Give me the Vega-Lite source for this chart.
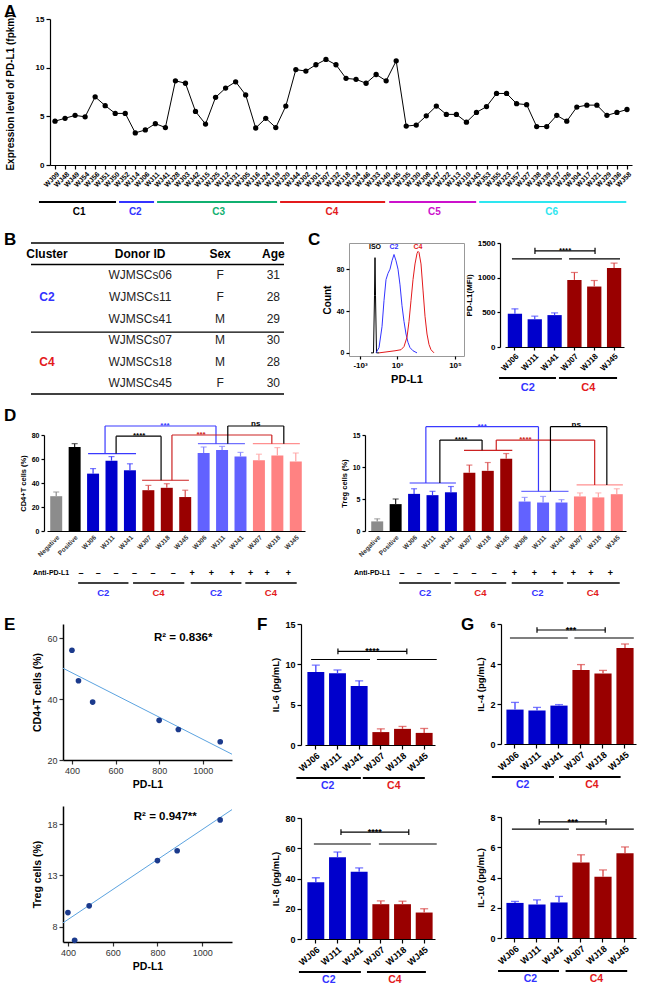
{
"$schema": "https://vega.github.io/schema/vega-lite/v6.json",
"background": "white",
"padding": {"left": 4, "top": 2, "right": 2, "bottom": 0},
"config": {
  "view": {"stroke": null},
  "font": "Liberation Sans",
  "axis": {"grid": false, "domainColor": "#000", "tickColor": "#000", "labelColor": "#000", "titleColor": "#000", "labelFont": "Liberation Sans", "titleFont": "Liberation Sans", "labelFontWeight": "bold", "titleFontWeight": "bold", "labelFontSize": 8, "titleFontSize": 9, "tickSize": 3, "domainWidth": 1.2, "tickWidth": 1.2},
  "title": {"fontSize": 17, "fontWeight": "bold", "anchor": "start", "frame": "bounds", "color": "#000", "font": "Liberation Sans"},
  "legend": {"disable": true},
  "text": {"font": "Liberation Sans"}
},
"columns": 1,
"spacing": 11,
"concat": [
{
 "columns": 1,
 "spacing": 13,
 "concat": [
  {
   "spacing": -12,
   "concat": [
    {"width": 13, "height": 1, "title": {"text": "A", "offset": -7}, "data": {"values": [{"t": " "}]}, "mark": {"type": "text"}, "encoding": {"text": {"field": "t"}}},
    {
     "spacing": 9,
     "vconcat": [
      {
       "width": 582, "height": 146,
       "data": {"values": [
        {"s":"WJ09","v":4.5},{"s":"WJ48","v":4.8},{"s":"WJ49","v":5.1},{"s":"WJ54","v":4.95},{"s":"WJ56","v":7.0},{"s":"WJ51","v":6.1},{"s":"WJ50","v":5.3},{"s":"WJ52","v":5.3},
        {"s":"WJ14","v":3.3},{"s":"WJ06","v":3.6},{"s":"WJ11","v":4.25},{"s":"WJ41","v":3.85},
        {"s":"WJ28","v":8.65},{"s":"WJ03","v":8.4},{"s":"WJ42","v":5.5},{"s":"WJ15","v":4.2},{"s":"WJ25","v":6.95},{"s":"WJ12","v":7.9},{"s":"WJ31","v":8.55},{"s":"WJ05","v":7.2},{"s":"WJ16","v":3.8},{"s":"WJ24","v":4.8},{"s":"WJ19","v":3.85},{"s":"WJ20","v":6.05},
        {"s":"WJ44","v":9.8},{"s":"WJ02","v":9.65},{"s":"WJ01","v":10.3},{"s":"WJ07","v":10.85},{"s":"WJ32","v":10.3},{"s":"WJ18","v":8.9},{"s":"WJ34","v":8.8},{"s":"WJ46","v":8.4},{"s":"WJ33","v":9.3},{"s":"WJ40","v":8.65},{"s":"WJ45","v":10.7},
        {"s":"WJ35","v":4.0},{"s":"WJ30","v":4.1},{"s":"WJ08","v":5.05},{"s":"WJ47","v":6.05},{"s":"WJ22","v":5.2},{"s":"WJ13","v":5.2},{"s":"WJ10","v":4.4},{"s":"WJ43","v":5.4},{"s":"WJ53","v":6.0},
        {"s":"WJ55","v":7.35},{"s":"WJ23","v":7.35},{"s":"WJ57","v":6.3},{"s":"WJ27","v":6.2},{"s":"WJ38","v":3.95},{"s":"WJ39","v":3.95},{"s":"WJ37","v":5.1},{"s":"WJ26","v":4.5},{"s":"WJ04","v":5.95},{"s":"WJ17","v":6.15},{"s":"WJ21","v":6.15},{"s":"WJ29","v":5.1},{"s":"WJ36","v":5.4},{"s":"WJ58","v":5.7}
       ]},
       "encoding": {
        "x": {"field": "s", "type": "nominal", "sort": null, "axis": {"title": null, "labelAngle": -45, "labelFontSize": 7, "tickSize": 4, "labelPadding": 1}},
        "y": {"field": "v", "type": "quantitative", "scale": {"domain": [0, 15], "nice": false}, "axis": {"title": "Expression level of PD-L1 (fpkm)", "values": [0, 5, 10, 15], "titleFontSize": 10, "titlePadding": 20, "tickSize": 4, "labelFontSize": 8}}
       },
       "layer": [
        {"mark": {"type": "line", "color": "#000", "strokeWidth": 1}},
        {"mark": {"type": "point", "filled": true, "color": "#000", "size": 28, "opacity": 1}}
       ]
      },
      {
       "width": 582, "height": 20,
       "data": {"values": [
        {"c": "C1", "a": -1.1, "b": 6.58, "m": 2.9},
        {"c": "C2", "a": 6.88, "b": 10.37, "m": 8.5},
        {"c": "C3", "a": 10.67, "b": 22.63, "m": 16.8},
        {"c": "C4", "a": 22.93, "b": 33.4, "m": 28.1},
        {"c": "C5", "a": 33.8, "b": 42.47, "m": 38.3},
        {"c": "C6", "a": 42.77, "b": 57.43, "m": 50.0}
       ]},
       "encoding": {"color": {"field": "c", "type": "nominal", "scale": {"domain": ["C1","C2","C3","C4","C5","C6"], "range": ["#000000","#3333ff","#10b070","#e31a1c","#cc11cc","#2ee6f0"]}}},
       "layer": [
        {"mark": {"type": "rule", "strokeWidth": 2}, "encoding": {"x": {"field": "a", "type": "quantitative", "scale": {"domain": [0, 58], "nice": false, "zero": false}, "axis": null}, "x2": {"field": "b"}, "y": {"datum": "line", "type": "nominal", "scale": {"type": "point", "domain": ["line", "grp"], "padding": 0.5}, "axis": null}}},
        {"mark": {"type": "text", "fontSize": 10, "fontWeight": "bold", "baseline": "middle"}, "encoding": {"x": {"field": "m", "type": "quantitative", "scale": {"domain": [0, 58], "nice": false, "zero": false}, "axis": null}, "y": {"datum": "grp", "type": "nominal", "scale": {"type": "point", "domain": ["line", "grp"], "padding": 0.5}, "axis": null}, "text": {"field": "c"}}}
       ]
      }
     ]
    }
   ]
  },
  {
   "spacing": 23,
   "concat": [
    {
     "spacing": 9,
     "concat": [
      {"width": 13, "height": 1, "title": {"text": "B", "offset": -11}, "data": {"values": [{"t": " "}]}, "mark": {"type": "text"}, "encoding": {"text": {"field": "t"}}},
      {
       "width": 253, "height": 151,
       "layer": [
        {"data": {"values": [{"r": 0}, {"r": 1}, {"r": 4.13}, {"r": 7}]}, "mark": {"type": "rule", "color": "#000", "strokeWidth": 1.4}, "encoding": {"y": {"field": "r", "type": "quantitative", "scale": {"domain": [0, 7], "reverse": true, "nice": false, "zero": false}, "axis": null}}},
        {"data": {"values": [{"c":"Cluster","r":0.5,"t":"Cluster"},{"c":"Donor ID","r":0.5,"t":"Donor ID"},{"c":"Sex","r":0.5,"t":"Sex"},{"c":"Age","r":0.5,"t":"Age"}]},
         "mark": {"type": "text", "fontSize": 12, "fontWeight": "bold", "baseline": "middle", "color": "#000"},
         "encoding": {"x": {"field": "c", "type": "nominal", "scale": {"type": "point", "domain": ["Cluster","s1","s2","s3","s4","s5","s6","Donor ID","s7","s8","s9","s10","s11","Sex","s12","s13","s14","Age"], "padding": 2.36, "align": 0.6}, "axis": null}, "y": {"field": "r", "type": "quantitative", "scale": {"domain": [0, 7], "reverse": true, "nice": false, "zero": false}, "axis": null}, "text": {"field": "t"}}},
        {"data": {"values": [
          {"c":"Donor ID","r":1.5,"t":"WJMSCs06"},{"c":"Sex","r":1.5,"t":"F"},{"c":"Age","r":1.5,"t":"31"},
          {"c":"Donor ID","r":2.5,"t":"WJMSCs11"},{"c":"Sex","r":2.5,"t":"F"},{"c":"Age","r":2.5,"t":"28"},
          {"c":"Donor ID","r":3.5,"t":"WJMSCs41"},{"c":"Sex","r":3.5,"t":"M"},{"c":"Age","r":3.5,"t":"29"},
          {"c":"Donor ID","r":4.5,"t":"WJMSCs07"},{"c":"Sex","r":4.5,"t":"M"},{"c":"Age","r":4.5,"t":"30"},
          {"c":"Donor ID","r":5.5,"t":"WJMSCs18"},{"c":"Sex","r":5.5,"t":"M"},{"c":"Age","r":5.5,"t":"28"},
          {"c":"Donor ID","r":6.5,"t":"WJMSCs45"},{"c":"Sex","r":6.5,"t":"F"},{"c":"Age","r":6.5,"t":"30"}]},
         "mark": {"type": "text", "fontSize": 12, "baseline": "middle", "color": "#222"},
         "encoding": {"x": {"field": "c", "type": "nominal", "scale": {"type": "point", "domain": ["Cluster","s1","s2","s3","s4","s5","s6","Donor ID","s7","s8","s9","s10","s11","Sex","s12","s13","s14","Age"], "padding": 2.36, "align": 0.6}, "axis": null}, "y": {"field": "r", "type": "quantitative", "scale": {"domain": [0, 7], "reverse": true, "nice": false, "zero": false}, "axis": null}, "text": {"field": "t"}}},
        {"data": {"values": [{"c":"Cluster","r":2.5,"t":"C2"},{"c":"Cluster","r":5.5,"t":"C4"}]},
         "mark": {"type": "text", "fontSize": 12, "fontWeight": "bold", "baseline": "middle"},
         "encoding": {"x": {"field": "c", "type": "nominal", "scale": {"type": "point", "domain": ["Cluster","s1","s2","s3","s4","s5","s6","Donor ID","s7","s8","s9","s10","s11","Sex","s12","s13","s14","Age"], "padding": 2.36, "align": 0.6}, "axis": null}, "y": {"field": "r", "type": "quantitative", "scale": {"domain": [0, 7], "reverse": true, "nice": false, "zero": false}, "axis": null}, "text": {"field": "t"}, "color": {"field": "t", "type": "nominal", "scale": {"domain": ["C2","C4"], "range": ["#3333ff","#cc1111"]}}}}
       ]
      }
     ]
    },
    {
     "spacing": 0,
     "concat": [
      {"width": 13, "height": 1, "title": {"text": "C", "offset": -11}, "data": {"values": [{"t": " "}]}, "mark": {"type": "text"}, "encoding": {"text": {"field": "t"}}},
      {
       "width": 115, "height": 113,
       "view": {"stroke": "#999999", "strokeWidth": 1},
       "layer": [
        {"data": {"values": [
          {"s":"ISO","u":22,"n":0},{"s":"ISO","u":24.5,"n":0},{"s":"ISO","u":25.5,"n":55},{"s":"ISO","u":26,"n":91},{"s":"ISO","u":26.5,"n":55},{"s":"ISO","u":27.5,"n":0},{"s":"ISO","u":30,"n":0},
          {"s":"C2","u":27,"n":0},{"s":"C2","u":30,"n":5},{"s":"C2","u":33,"n":25},{"s":"C2","u":35,"n":50},{"s":"C2","u":37,"n":70},{"s":"C2","u":39,"n":76},{"s":"C2","u":41,"n":80},{"s":"C2","u":43,"n":88},{"s":"C2","u":45,"n":94},{"s":"C2","u":47,"n":88},{"s":"C2","u":49,"n":80},{"s":"C2","u":51,"n":65},{"s":"C2","u":53,"n":45},{"s":"C2","u":55,"n":30},{"s":"C2","u":57,"n":18},{"s":"C2","u":59,"n":10},{"s":"C2","u":61,"n":5},{"s":"C2","u":64,"n":2},{"s":"C2","u":68,"n":0},
          {"s":"C4","u":30,"n":0},{"s":"C4","u":38,"n":1},{"s":"C4","u":46,"n":2},{"s":"C4","u":52,"n":3},{"s":"C4","u":55,"n":6},{"s":"C4","u":58,"n":15},{"s":"C4","u":60,"n":30},{"s":"C4","u":62,"n":50},{"s":"C4","u":64,"n":70},{"s":"C4","u":66,"n":85},{"s":"C4","u":68,"n":95},{"s":"C4","u":69,"n":97},{"s":"C4","u":70,"n":96},{"s":"C4","u":72,"n":85},{"s":"C4","u":74,"n":60},{"s":"C4","u":76,"n":35},{"s":"C4","u":78,"n":18},{"s":"C4","u":80,"n":8},{"s":"C4","u":82,"n":3},{"s":"C4","u":85,"n":0}
         ]},
         "mark": {"type": "line", "strokeWidth": 1},
         "encoding": {
          "x": {"field": "u", "type": "quantitative", "scale": {"domain": [0, 115], "nice": false, "zero": false}, "axis": {"title": "PD-L1", "titleFontSize": 11, "values": [11, 27, 48, 78, 106], "labelExpr": "datum.value == 11 ? '-10³' : datum.value == 27 ? '0' : datum.value == 48 ? '10³' : datum.value == 78 ? '10⁴' : '10⁵'", "domain": false, "labelFontSize": 8, "tickSize": 3}},
          "y": {"field": "n", "type": "quantitative", "scale": {"domain": [-3, 105], "nice": false, "zero": false}, "axis": {"title": "Count", "titleFontSize": 10, "values": [0, 20, 40, 60, 80, 100], "domain": false, "labelFontSize": 7}},
          "color": {"field": "s", "type": "nominal", "scale": {"domain": ["ISO","C2","C4"], "range": ["#555555","#2a2aff","#cc2020"]}}
         }
        },
        {"data": {"values": [{"s":"ISO","u":26,"n":101},{"s":"C2","u":45,"n":101},{"s":"C4","u":69,"n":101}]},
         "mark": {"type": "text", "fontSize": 7, "fontWeight": "bold", "baseline": "middle"},
         "encoding": {"x": {"field": "u", "type": "quantitative"}, "y": {"field": "n", "type": "quantitative"}, "text": {"field": "s"}, "color": {"field": "s", "type": "nominal", "scale": {"domain": ["ISO","C2","C4"], "range": ["#444444","#2a2aff","#cc2020"]}}}}
       ]
      },
      {
       "spacing": 0,
       "vconcat": [
        {
         "width": 119, "height": 104,
         "data": {"values": [{"k":"WJ06","g":"C2","v":480,"hi":550},{"k":"WJ11","g":"C2","v":400,"hi":445},{"k":"WJ41","g":"C2","v":460,"hi":492},{"k":"WJ07","g":"C4","v":968,"hi":1075},{"k":"WJ18","g":"C4","v":872,"hi":959},{"k":"WJ45","g":"C4","v":1138,"hi":1210}]},
         "encoding": {"y": {"field": "v", "type": "quantitative", "scale": {"domain": [0, 1500], "nice": false}, "axis": {"title": "PD-L1(MFI)", "values": [0, 500, 1000, 1500], "format": "d", "offset": 5, "labelFontSize": 8, "titleFontSize": 8, "tickSize": 3}}},
         "layer": [
          {"mark": {"type": "bar"}, "encoding": {"x": {"field": "k", "type": "nominal", "sort": null, "scale": {"paddingInner": 0.28, "paddingOuter": 0.14}, "axis": {"title": null, "labelAngle": -45, "labelFontSize": 8, "tickSize": 3}}, "color": {"field": "g", "type": "nominal", "scale": {"domain": ["C2","C4"], "range": ["#0000cc","#990000"]}}}},
          {"mark": {"type": "rule", "strokeWidth": 1.2}, "encoding": {"x": {"field": "k", "type": "nominal", "sort": null, "axis": null}, "y2": {"field": "hi"}, "color": {"field": "g", "type": "nominal", "scale": {"domain": ["C2","C4"], "range": ["#4040ff","#d94545"]}}}},
          {"mark": {"type": "tick", "thickness": 1.2, "size": 7}, "encoding": {"x": {"field": "k", "type": "nominal", "sort": null, "axis": null}, "y": {"field": "hi", "type": "quantitative", "title": "PD-L1(MFI)"}, "color": {"field": "g", "type": "nominal", "scale": {"domain": ["C2","C4"], "range": ["#4040ff","#d94545"]}}}},
          {"data": {"values": [{"x":0.35,"x2":2.87,"v":1272,"v2":1272},{"x":3.23,"x2":5.8,"v":1272,"v2":1272},{"x":1.51,"x2":4.54,"v":1385,"v2":1385},{"x":1.51,"x2":1.51,"v":1340,"v2":1430},{"x":4.54,"x2":4.54,"v":1340,"v2":1430}]},
           "mark": {"type": "rule", "strokeWidth": 1.2, "color": "#000"},
           "encoding": {"x": {"field": "x", "type": "quantitative", "scale": {"domain": [0, 6], "nice": false, "zero": false}, "axis": null}, "x2": {"field": "x2"}, "y2": {"field": "v2"}}},
          {"data": {"values": [{"x":3.03,"v":1385,"t":"****"}]},
           "mark": {"type": "text", "fontSize": 8, "fontWeight": "bold", "color": "#000"},
           "encoding": {"x": {"field": "x", "type": "quantitative", "scale": {"domain": [0, 6], "nice": false, "zero": false}, "axis": null}, "text": {"field": "t"}}}
         ],
         "resolve": {"scale": {"x": "independent", "color": "independent"}}
        },
        {
         "width": 119, "height": 20,
         "data": {"values": [{"c":"C2","a":-0.3,"b":2.57,"m":1.15},{"c":"C4","a":2.72,"b":5.65,"m":4.2}]},
         "layer": [
          {"mark": {"type": "rule", "strokeWidth": 2, "color": "#000"}, "encoding": {"x": {"field": "a", "type": "quantitative", "scale": {"domain": [0, 6], "nice": false, "zero": false}, "axis": null}, "x2": {"field": "b"}, "y": {"datum": "line", "type": "nominal", "scale": {"type": "point", "domain": ["line", "grp"], "padding": 0.5}, "axis": null}}},
          {"mark": {"type": "text", "fontSize": 11, "fontWeight": "bold", "baseline": "middle"}, "encoding": {"x": {"field": "m", "type": "quantitative", "scale": {"domain": [0, 6], "nice": false, "zero": false}, "axis": null}, "y": {"datum": "grp", "type": "nominal", "scale": {"type": "point", "domain": ["line", "grp"], "padding": 0.5}, "axis": null}, "text": {"field": "c"}, "color": {"field": "c", "type": "nominal", "scale": {"domain": ["C2","C4"], "range": ["#3333ff","#dd1111"]}}}}
         ]
        }
       ]
      }
     ]
    }
   ]
  }
 ]
},
{
 "columns": 1,
 "spacing": 17,
 "concat": [
  {
   "spacing": 35,
   "concat": [
    {
     "spacing": 2,
     "concat": [
      {"width": 13, "height": 1, "title": {"text": "D", "offset": 5}, "data": {"values": [{"t": " "}]}, "mark": {"type": "text"}, "encoding": {"text": {"field": "t"}}},
      {
       "spacing": 10,
       "vconcat": [
        {
         "width": 258, "height": 96,
         "data": {"values": [
          {"k":"Negative","g":"neg","v":29,"hi":32.5},{"k":"Positive","g":"pos","v":70,"hi":72.8},
          {"k":"WJ06","g":"c2","v":47.8,"hi":52},{"k":"WJ11","g":"c2","v":58.6,"hi":62},{"k":"WJ41","g":"c2","v":50.6,"hi":56},
          {"k":"WJ07","g":"c4","v":34,"hi":38},{"k":"WJ18","g":"c4","v":36,"hi":39.4},{"k":"WJ45","g":"c4","v":28.3,"hi":34},
          {"k":"WJ06+","g":"c2a","v":65,"hi":70},{"k":"WJ11+","g":"c2a","v":67.5,"hi":70.5},{"k":"WJ41+","g":"c2a","v":62,"hi":65.5},
          {"k":"WJ07+","g":"c4a","v":59,"hi":64},{"k":"WJ18+","g":"c4a","v":63,"hi":69.5},{"k":"WJ45+","g":"c4a","v":58,"hi":65}
         ]},
         "encoding": {"y": {"field": "v", "type": "quantitative", "scale": {"domain": [0, 80], "nice": false}, "axis": {"title": "CD4+T cells (%)", "values": [0, 20, 40, 60, 80], "offset": 3, "labelFontSize": 7, "titleFontSize": 7.5, "tickSize": 3}}},
         "layer": [
          {"mark": {"type": "bar"}, "encoding": {"x": {"field": "k", "type": "nominal", "sort": null, "scale": {"paddingInner": 0.35, "paddingOuter": 0.175}, "axis": {"title": null, "labelAngle": -45, "labelFontSize": 6.5, "labelColor": "#333", "ticks": false, "labelPadding": 3, "labelExpr": "replace(datum.label, '+', '')"}}, "color": {"field": "g", "type": "nominal", "scale": {"domain": ["neg","pos","c2","c4","c2a","c4a"], "range": ["#8c8c8c","#000000","#0000cc","#990000","#6262ff","#ff8282"]}}}},
          {"mark": {"type": "rule", "strokeWidth": 1.2}, "encoding": {"x": {"field": "k", "type": "nominal", "sort": null, "axis": null}, "y2": {"field": "hi"}, "color": {"field": "g", "type": "nominal", "scale": {"domain": ["neg","pos","c2","c4","c2a","c4a"], "range": ["#8c8c8c","#222222","#3d3dff","#d84a4a","#8585ff","#ffa3a3"]}}}},
          {"mark": {"type": "tick", "thickness": 1.2, "size": 6}, "encoding": {"x": {"field": "k", "type": "nominal", "sort": null, "axis": null}, "y": {"field": "hi", "type": "quantitative", "title": "CD4+T cells (%)"}, "color": {"field": "g", "type": "nominal", "scale": {"domain": ["neg","pos","c2","c4","c2a","c4a"], "range": ["#8c8c8c","#222222","#3d3dff","#d84a4a","#8585ff","#ffa3a3"]}}}},
          {"data": {"values": [
            {"x":2.23,"x2":4.83,"v":64.5,"v2":64.5,"c":"blue"},{"x":5.16,"x2":7.7,"v":42.3,"v2":42.3,"c":"red"},{"x":8.19,"x2":10.74,"v":72.8,"v2":72.8,"c":"lblue"},{"x":11.17,"x2":13.72,"v":72.8,"v2":72.8,"c":"pink"},
            {"x":3.15,"x2":3.15,"v":64.5,"v2":87.5,"c":"blue"},{"x":3.15,"x2":9.17,"v":87.5,"v2":87.5,"c":"blue"},{"x":9.17,"x2":9.17,"v":87.5,"v2":72.8,"c":"blue"},
            {"x":3.75,"x2":3.75,"v":64.5,"v2":79,"c":"black"},{"x":3.75,"x2":6.19,"v":79,"v2":79,"c":"black"},{"x":6.19,"x2":6.19,"v":79,"v2":42.3,"c":"black"},
            {"x":6.78,"x2":6.78,"v":42.3,"v2":80,"c":"red"},{"x":6.78,"x2":12.2,"v":80,"v2":80,"c":"red"},{"x":12.2,"x2":12.2,"v":80,"v2":72.8,"c":"red"},
            {"x":9.81,"x2":9.81,"v":72.8,"v2":87.5,"c":"black"},{"x":9.81,"x2":12.85,"v":87.5,"v2":87.5,"c":"black"},{"x":12.85,"x2":12.85,"v":87.5,"v2":72.8,"c":"black"}
           ]},
           "mark": {"type": "rule", "strokeWidth": 1.2},
           "encoding": {"x": {"field": "x", "type": "quantitative", "scale": {"domain": [0, 14], "nice": false, "zero": false}, "axis": null}, "x2": {"field": "x2"}, "y2": {"field": "v2"}, "color": {"field": "c", "type": "nominal", "scale": {"domain": ["blue","red","black","lblue","pink"], "range": ["#3a3aff","#cc2222","#000000","#7070ff","#ff9090"]}}}},
          {"data": {"values": [{"x":6.4,"v":87.5,"t":"***","c":"blue"},{"x":5.0,"v":79,"t":"****","c":"black"},{"x":8.36,"v":80,"t":"***","c":"red"},{"x":11.33,"v":89,"t":"ns","c":"black"}]},
           "mark": {"type": "text", "fontSize": 8, "fontWeight": "bold"},
           "encoding": {"x": {"field": "x", "type": "quantitative", "scale": {"domain": [0, 14], "nice": false, "zero": false}, "axis": null}, "text": {"field": "t"}, "color": {"field": "c", "type": "nominal", "scale": {"domain": ["blue","red","black"], "range": ["#3a3aff","#cc2222","#000000"]}}}}
         ],
         "resolve": {"scale": {"x": "independent", "color": "independent"}}
        },
        {
         "width": 258, "height": 30,
         "layer": [
          {"data": {"values": [{"t":"Anti-PD-L1","x":1.2,"row":"sign"}]}, "mark": {"type": "text", "fontSize": 7, "fontWeight": "bold", "align": "right", "baseline": "middle"}, "encoding": {"x": {"field": "x", "type": "quantitative", "scale": {"domain": [0, 14], "nice": false, "zero": false}, "axis": null}, "y": {"field": "row", "type": "nominal", "scale": {"type": "point", "domain": ["sign","line","grp"], "padding": 0.5}, "axis": null}, "text": {"field": "t"}}},
          {"data": {"values": [{"t":"–","x":1.85,"row":"sign"},{"t":"–","x":2.78,"row":"sign"},{"t":"–","x":3.75,"row":"sign"},{"t":"–","x":4.75,"row":"sign"},{"t":"–","x":5.75,"row":"sign"},{"t":"–","x":6.85,"row":"sign"},{"t":"+","x":7.87,"row":"sign"},{"t":"+","x":8.92,"row":"sign"},{"t":"+","x":10.05,"row":"sign"},{"t":"+","x":11.05,"row":"sign"},{"t":"+","x":11.95,"row":"sign"},{"t":"+","x":13.1,"row":"sign"}]}, "mark": {"type": "text", "fontSize": 9, "fontWeight": "bold", "baseline": "middle"}, "encoding": {"x": {"field": "x", "type": "quantitative", "scale": {"domain": [0, 14], "nice": false, "zero": false}, "axis": null}, "y": {"field": "row", "type": "nominal", "scale": {"type": "point", "domain": ["sign","line","grp"], "padding": 0.5}, "axis": null}, "text": {"field": "t"}}},
          {"data": {"values": [{"x":1.69,"x2":4.42,"row":"line"},{"x":4.67,"x2":7.45,"row":"line"},{"x":7.8,"x2":10.55,"row":"line"},{"x":10.76,"x2":13.55,"row":"line"}]}, "mark": {"type": "rule", "strokeWidth": 1.6, "color": "#000"}, "encoding": {"x": {"field": "x", "type": "quantitative", "scale": {"domain": [0, 14], "nice": false, "zero": false}, "axis": null}, "x2": {"field": "x2"}, "y": {"field": "row", "type": "nominal", "scale": {"type": "point", "domain": ["sign","line","grp"], "padding": 0.5}, "axis": null}}},
          {"data": {"values": [{"t":"C2","x":3.05,"row":"grp"},{"t":"C4","x":6.05,"row":"grp"},{"t":"C2","x":9.17,"row":"grp"},{"t":"C4","x":12.15,"row":"grp"}]}, "mark": {"type": "text", "fontSize": 9.5, "fontWeight": "bold", "baseline": "middle"}, "encoding": {"x": {"field": "x", "type": "quantitative", "scale": {"domain": [0, 14], "nice": false, "zero": false}, "axis": null}, "y": {"field": "row", "type": "nominal", "scale": {"type": "point", "domain": ["sign","line","grp"], "padding": 0.5}, "axis": null}, "text": {"field": "t"}, "color": {"field": "t", "type": "nominal", "scale": {"domain": ["C2","C4"], "range": ["#3333ff","#dd1111"]}}}}
         ]
        }
       ]
      }
     ]
    },
    {
     "spacing": 10,
     "vconcat": [
      {
       "width": 258, "height": 96,
       "data": {"values": [
        {"k":"Negative","g":"neg","v":1.5,"hi":1.9},{"k":"Positive","g":"pos","v":4.2,"hi":5.0},
        {"k":"WJ06","g":"c2","v":5.8,"hi":6.6},{"k":"WJ11","g":"c2","v":5.6,"hi":6.2},{"k":"WJ41","g":"c2","v":6.05,"hi":6.95},
        {"k":"WJ07","g":"c4","v":9.1,"hi":10.3},{"k":"WJ18","g":"c4","v":9.4,"hi":10.7},{"k":"WJ45","g":"c4","v":11.3,"hi":12.1},
        {"k":"WJ06+","g":"c2a","v":4.6,"hi":5.25},{"k":"WJ11+","g":"c2a","v":4.45,"hi":5.4},{"k":"WJ41+","g":"c2a","v":4.45,"hi":4.9},
        {"k":"WJ07+","g":"c4a","v":5.4,"hi":5.95},{"k":"WJ18+","g":"c4a","v":5.25,"hi":5.95},{"k":"WJ45+","g":"c4a","v":5.75,"hi":6.6}
       ]},
       "encoding": {"y": {"field": "v", "type": "quantitative", "scale": {"domain": [0, 15], "nice": false}, "axis": {"title": "Treg cells (%)", "values": [0, 5, 10, 15], "offset": 3, "labelFontSize": 7, "titleFontSize": 7.5, "tickSize": 3}}},
       "layer": [
        {"mark": {"type": "bar"}, "encoding": {"x": {"field": "k", "type": "nominal", "sort": null, "scale": {"paddingInner": 0.35, "paddingOuter": 0.175}, "axis": {"title": null, "labelAngle": -45, "labelFontSize": 6.5, "labelColor": "#333", "ticks": false, "labelPadding": 3, "labelExpr": "replace(datum.label, '+', '')"}}, "color": {"field": "g", "type": "nominal", "scale": {"domain": ["neg","pos","c2","c4","c2a","c4a"], "range": ["#8c8c8c","#000000","#0000cc","#990000","#6262ff","#ff8282"]}}}},
        {"mark": {"type": "rule", "strokeWidth": 1.2}, "encoding": {"x": {"field": "k", "type": "nominal", "sort": null, "axis": null}, "y2": {"field": "hi"}, "color": {"field": "g", "type": "nominal", "scale": {"domain": ["neg","pos","c2","c4","c2a","c4a"], "range": ["#8c8c8c","#222222","#3d3dff","#d84a4a","#8585ff","#ffa3a3"]}}}},
        {"mark": {"type": "tick", "thickness": 1.2, "size": 6}, "encoding": {"x": {"field": "k", "type": "nominal", "sort": null, "axis": null}, "y": {"field": "hi", "type": "quantitative", "title": "Treg cells (%)"}, "color": {"field": "g", "type": "nominal", "scale": {"domain": ["neg","pos","c2","c4","c2a","c4a"], "range": ["#8c8c8c","#222222","#3d3dff","#d84a4a","#8585ff","#ffa3a3"]}}}},
        {"data": {"values": [
          {"x":2.26,"x2":4.77,"v":7.5,"v2":7.5,"c":"blue"},{"x":5.21,"x2":7.83,"v":12.6,"v2":12.6,"c":"red"},{"x":8.32,"x2":10.88,"v":6.2,"v2":6.2,"c":"lblue"},{"x":11.32,"x2":13.83,"v":7.2,"v2":7.2,"c":"pink"},
          {"x":3.14,"x2":3.14,"v":7.5,"v2":16.3,"c":"blue"},{"x":3.14,"x2":9.25,"v":16.3,"v2":16.3,"c":"blue"},{"x":9.25,"x2":9.25,"v":16.3,"v2":6.2,"c":"blue"},
          {"x":3.9,"x2":3.9,"v":7.5,"v2":14.2,"c":"black"},{"x":3.9,"x2":6.19,"v":14.2,"v2":14.2,"c":"black"},{"x":6.19,"x2":6.19,"v":14.2,"v2":12.6,"c":"black"},
          {"x":6.96,"x2":6.96,"v":12.6,"v2":14.2,"c":"red"},{"x":6.96,"x2":12.3,"v":14.2,"v2":14.2,"c":"red"},{"x":12.3,"x2":12.3,"v":14.2,"v2":7.2,"c":"red"},
          {"x":9.9,"x2":9.9,"v":6.2,"v2":16.3,"c":"black"},{"x":9.9,"x2":12.96,"v":16.3,"v2":16.3,"c":"black"},{"x":12.96,"x2":12.96,"v":16.3,"v2":7.2,"c":"black"}
         ]},
         "mark": {"type": "rule", "strokeWidth": 1.2},
         "encoding": {"x": {"field": "x", "type": "quantitative", "scale": {"domain": [0, 14], "nice": false, "zero": false}, "axis": null}, "x2": {"field": "x2"}, "y2": {"field": "v2"}, "color": {"field": "c", "type": "nominal", "scale": {"domain": ["blue","red","black","lblue","pink"], "range": ["#3a3aff","#cc2222","#000000","#7070ff","#ff9090"]}}}},
        {"data": {"values": [{"x":6.19,"v":16.3,"t":"***","c":"blue"},{"x":5.05,"v":14.2,"t":"****","c":"black"},{"x":8.54,"v":14.2,"t":"****","c":"red"},{"x":11.3,"v":16.6,"t":"ns","c":"black"}]},
         "mark": {"type": "text", "fontSize": 8, "fontWeight": "bold"},
         "encoding": {"x": {"field": "x", "type": "quantitative", "scale": {"domain": [0, 14], "nice": false, "zero": false}, "axis": null}, "text": {"field": "t"}, "color": {"field": "c", "type": "nominal", "scale": {"domain": ["blue","red","black"], "range": ["#3a3aff","#cc2222","#000000"]}}}}
       ],
       "resolve": {"scale": {"x": "independent", "color": "independent"}}
      },
      {
       "width": 258, "height": 30,
       "layer": [
        {"data": {"values": [{"t":"Anti-PD-L1","x":1.2,"row":"sign"}]}, "mark": {"type": "text", "fontSize": 7, "fontWeight": "bold", "align": "right", "baseline": "middle"}, "encoding": {"x": {"field": "x", "type": "quantitative", "scale": {"domain": [0, 14], "nice": false, "zero": false}, "axis": null}, "y": {"field": "row", "type": "nominal", "scale": {"type": "point", "domain": ["sign","line","grp"], "padding": 0.5}, "axis": null}, "text": {"field": "t"}}},
        {"data": {"values": [{"t":"–","x":1.85,"row":"sign"},{"t":"–","x":2.78,"row":"sign"},{"t":"–","x":3.75,"row":"sign"},{"t":"–","x":4.75,"row":"sign"},{"t":"–","x":5.75,"row":"sign"},{"t":"–","x":6.85,"row":"sign"},{"t":"+","x":7.94,"row":"sign"},{"t":"+","x":9.03,"row":"sign"},{"t":"+","x":10.1,"row":"sign"},{"t":"+","x":11.15,"row":"sign"},{"t":"+","x":12.1,"row":"sign"},{"t":"+","x":13.15,"row":"sign"}]}, "mark": {"type": "text", "fontSize": 9, "fontWeight": "bold", "baseline": "middle"}, "encoding": {"x": {"field": "x", "type": "quantitative", "scale": {"domain": [0, 14], "nice": false, "zero": false}, "axis": null}, "y": {"field": "row", "type": "nominal", "scale": {"type": "point", "domain": ["sign","line","grp"], "padding": 0.5}, "axis": null}, "text": {"field": "t"}}},
        {"data": {"values": [{"x":1.69,"x2":4.5,"row":"line"},{"x":4.7,"x2":7.5,"row":"line"},{"x":7.8,"x2":10.6,"row":"line"},{"x":10.8,"x2":13.66,"row":"line"}]}, "mark": {"type": "rule", "strokeWidth": 1.6, "color": "#000"}, "encoding": {"x": {"field": "x", "type": "quantitative", "scale": {"domain": [0, 14], "nice": false, "zero": false}, "axis": null}, "x2": {"field": "x2"}, "y": {"field": "row", "type": "nominal", "scale": {"type": "point", "domain": ["sign","line","grp"], "padding": 0.5}, "axis": null}}},
        {"data": {"values": [{"t":"C2","x":3.1,"row":"grp"},{"t":"C4","x":6.1,"row":"grp"},{"t":"C2","x":9.2,"row":"grp"},{"t":"C4","x":12.2,"row":"grp"}]}, "mark": {"type": "text", "fontSize": 9.5, "fontWeight": "bold", "baseline": "middle"}, "encoding": {"x": {"field": "x", "type": "quantitative", "scale": {"domain": [0, 14], "nice": false, "zero": false}, "axis": null}, "y": {"field": "row", "type": "nominal", "scale": {"type": "point", "domain": ["sign","line","grp"], "padding": 0.5}, "axis": null}, "text": {"field": "t"}, "color": {"field": "t", "type": "nominal", "scale": {"domain": ["C2","C4"], "range": ["#3333ff","#dd1111"]}}}}
       ]
      }
     ]
    }
   ]
  },
  {
   "spacing": 23,
   "concat": [
    {
     "spacing": 15,
     "concat": [
      {"width": 13, "height": 1, "title": {"text": "E", "offset": -15}, "data": {"values": [{"t": " "}]}, "mark": {"type": "text"}, "encoding": {"text": {"field": "t"}}},
      {
       "spacing": 16,
       "vconcat": [
        {
         "width": 169, "height": 136,
         "layer": [
          {"data": {"values": [{"x":359,"y":50.1},{"x":1134,"y":21.9}]}, "mark": {"type": "line", "color": "#5ba3e0", "strokeWidth": 1},
           "encoding": {"x": {"field": "x", "type": "quantitative", "scale": {"domain": [359, 1134], "nice": false, "zero": false}, "axis": {"title": "PD-L1", "values": [400, 600, 800, 1000], "format": "d", "labelFontWeight": "normal", "labelFontSize": 9, "labelColor": "#333", "titleFontSize": 10.5, "tickSize": 4, "tickColor": "#333", "domainWidth": 1.5}},
                        "y": {"field": "y", "type": "quantitative", "scale": {"domain": [20, 64.6], "nice": false, "zero": false}, "axis": {"title": "CD4+T cells (%)", "values": [20, 30, 40, 50, 60], "labelFontWeight": "normal", "labelFontSize": 9, "labelColor": "#333", "titleFontSize": 10.5, "tickSize": 4, "tickColor": "#333", "domainWidth": 1.5}}}},
          {"data": {"values": [{"x":400,"y":56},{"x":430,"y":46},{"x":495,"y":39},{"x":800,"y":33},{"x":888,"y":30},{"x":1080,"y":26}]}, "mark": {"type": "circle", "color": "#1b3a8c", "size": 32, "opacity": 1},
           "encoding": {"x": {"field": "x", "type": "quantitative"}, "y": {"field": "y", "type": "quantitative"}}},
          {"data": {"values": [{"x":910,"y":60,"t":"R² = 0.836*"}]}, "mark": {"type": "text", "fontSize": 11.5, "fontWeight": "bold", "baseline": "middle"},
           "encoding": {"x": {"field": "x", "type": "quantitative"}, "y": {"field": "y", "type": "quantitative"}, "text": {"field": "t"}}}
         ]
        },
        {
         "width": 169, "height": 136,
         "layer": [
          {"data": {"values": [{"x":378,"y":7.9},{"x":1133,"y":18.9}]}, "mark": {"type": "line", "color": "#5ba3e0", "strokeWidth": 1},
           "encoding": {"x": {"field": "x", "type": "quantitative", "scale": {"domain": [378, 1133], "nice": false, "zero": false}, "axis": {"title": "PD-L1", "values": [400, 600, 800, 1000], "format": "d", "labelFontWeight": "normal", "labelFontSize": 9, "labelColor": "#333", "titleFontSize": 10.5, "tickSize": 4, "tickColor": "#333", "domainWidth": 1.5}},
                        "y": {"field": "y", "type": "quantitative", "scale": {"domain": [6.04, 19.25], "nice": false, "zero": false}, "axis": {"title": "Treg cells (%)", "values": [7.5, 10, 12.5, 15, 17.5], "format": ".0f", "labelFontWeight": "normal", "labelFontSize": 9, "labelColor": "#333", "titleFontSize": 10.5, "tickSize": 4, "tickColor": "#333", "domainWidth": 1.5}}}},
          {"data": {"values": [{"x":400,"y":8.9},{"x":430,"y":6.2},{"x":495,"y":9.55},{"x":800,"y":13.95},{"x":888,"y":14.9},{"x":1080,"y":17.9}]}, "mark": {"type": "circle", "color": "#1b3a8c", "size": 32, "opacity": 1},
           "encoding": {"x": {"field": "x", "type": "quantitative"}, "y": {"field": "y", "type": "quantitative"}}},
          {"data": {"values": [{"x":835,"y":18.2,"t":"R² = 0.947**"}]}, "mark": {"type": "text", "fontSize": 11.5, "fontWeight": "bold", "baseline": "middle"},
           "encoding": {"x": {"field": "x", "type": "quantitative"}, "y": {"field": "y", "type": "quantitative"}, "text": {"field": "t"}}}
         ]
        }
       ]
      }
     ]
    },
    {
     "spacing": 0,
     "concat": [
      {"width": 13, "height": 1, "title": {"text": "F", "offset": -15}, "data": {"values": [{"t": " "}]}, "mark": {"type": "text"}, "encoding": {"text": {"field": "t"}}},
      {
       "spacing": 22,
       "vconcat": [
        {
         "spacing": 0,
         "vconcat": [
          {
           "width": 130, "height": 121,
           "data": {"values": [{"k":"WJ06","g":"C2","v":9.05,"hi":9.9},{"k":"WJ11","g":"C2","v":8.9,"hi":9.3},{"k":"WJ41","g":"C2","v":7.3,"hi":7.95},{"k":"WJ07","g":"C4","v":1.6,"hi":2.0},{"k":"WJ18","g":"C4","v":2.0,"hi":2.3},{"k":"WJ45","g":"C4","v":1.5,"hi":2.05}]},
           "encoding": {"y": {"field": "v", "type": "quantitative", "scale": {"domain": [0, 15], "nice": false}, "axis": {"title": "IL-6 (pg/mL)", "values": [0, 5, 10, 15], "offset": 4, "labelFontSize": 9, "titleFontSize": 9.5, "tickSize": 4}}},
           "layer": [
            {"mark": {"type": "bar"}, "encoding": {"x": {"field": "k", "type": "nominal", "sort": null, "scale": {"paddingInner": 0.22, "paddingOuter": 0.11}, "axis": {"title": null, "labelAngle": -40, "labelFontSize": 9, "tickSize": 4}}, "color": {"field": "g", "type": "nominal", "scale": {"domain": ["C2","C4"], "range": ["#0000cc","#990000"]}}}},
            {"mark": {"type": "rule", "strokeWidth": 1.3}, "encoding": {"x": {"field": "k", "type": "nominal", "sort": null, "axis": null}, "y2": {"field": "hi"}, "color": {"field": "g", "type": "nominal", "scale": {"domain": ["C2","C4"], "range": ["#4040ff","#d94545"]}}}},
            {"mark": {"type": "tick", "thickness": 1.3, "size": 8}, "encoding": {"x": {"field": "k", "type": "nominal", "sort": null, "axis": null}, "y": {"field": "hi", "type": "quantitative", "title": "IL-6 (pg/mL)"}, "color": {"field": "g", "type": "nominal", "scale": {"domain": ["C2","C4"], "range": ["#4040ff","#d94545"]}}}},
            {"data": {"values": [{"x":0.28,"x2":3.0,"v":10.6,"v2":10.6},{"x":3.32,"x2":6.08,"v":10.6,"v2":10.6},{"x":1.52,"x2":4.7,"v":11.6,"v2":11.6},{"x":1.52,"x2":1.52,"v":11.25,"v2":11.95},{"x":4.7,"x2":4.7,"v":11.25,"v2":11.95}]},
             "mark": {"type": "rule", "strokeWidth": 1.2, "color": "#000"},
             "encoding": {"x": {"field": "x", "type": "quantitative", "scale": {"domain": [0, 6], "nice": false, "zero": false}, "axis": null}, "x2": {"field": "x2"}, "y2": {"field": "v2"}}},
            {"data": {"values": [{"x":3.1,"v":11.6,"t":"****"}]}, "mark": {"type": "text", "fontSize": 9, "fontWeight": "bold", "color": "#000"},
             "encoding": {"x": {"field": "x", "type": "quantitative", "scale": {"domain": [0, 6], "nice": false, "zero": false}, "axis": null}, "text": {"field": "t"}}}
           ],
           "resolve": {"scale": {"x": "independent", "color": "independent"}}
          },
          {
           "width": 130, "height": 16,
           "data": {"values": [{"c":"C2","a":-0.4,"b":2.58,"m":1.05},{"c":"C4","a":2.67,"b":5.53,"m":4.1}]},
           "layer": [
            {"mark": {"type": "rule", "strokeWidth": 2, "color": "#000"}, "encoding": {"x": {"field": "a", "type": "quantitative", "scale": {"domain": [0, 6], "nice": false, "zero": false}, "axis": null}, "x2": {"field": "b"}, "y": {"datum": "line", "type": "nominal", "scale": {"type": "point", "domain": ["line", "grp"], "padding": 0.5}, "axis": null}}},
            {"mark": {"type": "text", "fontSize": 10.5, "fontWeight": "bold", "baseline": "middle"}, "encoding": {"x": {"field": "m", "type": "quantitative", "scale": {"domain": [0, 6], "nice": false, "zero": false}, "axis": null}, "y": {"datum": "grp", "type": "nominal", "scale": {"type": "point", "domain": ["line", "grp"], "padding": 0.5}, "axis": null}, "text": {"field": "c"}, "color": {"field": "c", "type": "nominal", "scale": {"domain": ["C2","C4"], "range": ["#3333ff","#dd1111"]}}}}
           ]
          }
         ]
        },
        {
         "spacing": 0,
         "vconcat": [
          {
           "width": 130, "height": 121,
           "data": {"values": [{"k":"WJ06","g":"C2","v":37.5,"hi":40.5},{"k":"WJ11","g":"C2","v":54,"hi":57.5},{"k":"WJ41","g":"C2","v":44.5,"hi":47},{"k":"WJ07","g":"C4","v":23,"hi":25.2},{"k":"WJ18","g":"C4","v":23,"hi":25},{"k":"WJ45","g":"C4","v":17.5,"hi":20}]},
           "encoding": {"y": {"field": "v", "type": "quantitative", "scale": {"domain": [0, 80], "nice": false}, "axis": {"title": "IL-8 (pg/mL)", "values": [0, 20, 40, 60, 80], "offset": 4, "labelFontSize": 9, "titleFontSize": 9.5, "tickSize": 4}}},
           "layer": [
            {"mark": {"type": "bar"}, "encoding": {"x": {"field": "k", "type": "nominal", "sort": null, "scale": {"paddingInner": 0.22, "paddingOuter": 0.11}, "axis": {"title": null, "labelAngle": -40, "labelFontSize": 9, "tickSize": 4}}, "color": {"field": "g", "type": "nominal", "scale": {"domain": ["C2","C4"], "range": ["#0000cc","#990000"]}}}},
            {"mark": {"type": "rule", "strokeWidth": 1.3}, "encoding": {"x": {"field": "k", "type": "nominal", "sort": null, "axis": null}, "y2": {"field": "hi"}, "color": {"field": "g", "type": "nominal", "scale": {"domain": ["C2","C4"], "range": ["#4040ff","#d94545"]}}}},
            {"mark": {"type": "tick", "thickness": 1.3, "size": 8}, "encoding": {"x": {"field": "k", "type": "nominal", "sort": null, "axis": null}, "y": {"field": "hi", "type": "quantitative", "title": "IL-8 (pg/mL)"}, "color": {"field": "g", "type": "nominal", "scale": {"domain": ["C2","C4"], "range": ["#4040ff","#d94545"]}}}},
            {"data": {"values": [{"x":0.41,"x2":3.04,"v":62.8,"v2":62.8},{"x":3.41,"x2":6.08,"v":62.8,"v2":62.8},{"x":1.66,"x2":4.79,"v":70.7,"v2":70.7},{"x":1.66,"x2":1.66,"v":68.8,"v2":72.6},{"x":4.79,"x2":4.79,"v":68.8,"v2":72.6}]},
             "mark": {"type": "rule", "strokeWidth": 1.2, "color": "#000"},
             "encoding": {"x": {"field": "x", "type": "quantitative", "scale": {"domain": [0, 6], "nice": false, "zero": false}, "axis": null}, "x2": {"field": "x2"}, "y2": {"field": "v2"}}},
            {"data": {"values": [{"x":3.22,"v":70.7,"t":"****"}]}, "mark": {"type": "text", "fontSize": 9, "fontWeight": "bold", "color": "#000"},
             "encoding": {"x": {"field": "x", "type": "quantitative", "scale": {"domain": [0, 6], "nice": false, "zero": false}, "axis": null}, "text": {"field": "t"}}}
           ],
           "resolve": {"scale": {"x": "independent", "color": "independent"}}
          },
          {
           "width": 130, "height": 16,
           "data": {"values": [{"c":"C2","a":-0.28,"b":2.58,"m":1.1},{"c":"C4","a":2.86,"b":5.58,"m":4.15}]},
           "layer": [
            {"mark": {"type": "rule", "strokeWidth": 2, "color": "#000"}, "encoding": {"x": {"field": "a", "type": "quantitative", "scale": {"domain": [0, 6], "nice": false, "zero": false}, "axis": null}, "x2": {"field": "b"}, "y": {"datum": "line", "type": "nominal", "scale": {"type": "point", "domain": ["line", "grp"], "padding": 0.5}, "axis": null}}},
            {"mark": {"type": "text", "fontSize": 10.5, "fontWeight": "bold", "baseline": "middle"}, "encoding": {"x": {"field": "m", "type": "quantitative", "scale": {"domain": [0, 6], "nice": false, "zero": false}, "axis": null}, "y": {"datum": "grp", "type": "nominal", "scale": {"type": "point", "domain": ["line", "grp"], "padding": 0.5}, "axis": null}, "text": {"field": "c"}, "color": {"field": "c", "type": "nominal", "scale": {"domain": ["C2","C4"], "range": ["#3333ff","#dd1111"]}}}}
           ]
          }
         ]
        }
       ]
      }
     ]
    },
    {
     "spacing": 0,
     "concat": [
      {"width": 13, "height": 1, "title": {"text": "G", "offset": -15}, "data": {"values": [{"t": " "}]}, "mark": {"type": "text"}, "encoding": {"text": {"field": "t"}}},
      {
       "spacing": 22,
       "vconcat": [
        {
         "spacing": 0,
         "vconcat": [
          {
           "width": 132, "height": 120,
           "data": {"values": [{"k":"WJ06","g":"C2","v":1.72,"hi":2.08},{"k":"WJ11","g":"C2","v":1.67,"hi":1.83},{"k":"WJ41","g":"C2","v":1.92,"hi":1.97},{"k":"WJ07","g":"C4","v":3.7,"hi":3.97},{"k":"WJ18","g":"C4","v":3.53,"hi":3.68},{"k":"WJ45","g":"C4","v":4.8,"hi":5.0}]},
           "encoding": {"y": {"field": "v", "type": "quantitative", "scale": {"domain": [0, 6], "nice": false}, "axis": {"title": "IL-4 (pg/mL)", "values": [0, 2, 4, 6], "offset": 3, "labelFontSize": 9, "titleFontSize": 9.5, "tickSize": 4}}},
           "layer": [
            {"mark": {"type": "bar"}, "encoding": {"x": {"field": "k", "type": "nominal", "sort": null, "scale": {"paddingInner": 0.22, "paddingOuter": 0.11}, "axis": {"title": null, "labelAngle": -40, "labelFontSize": 9, "tickSize": 4}}, "color": {"field": "g", "type": "nominal", "scale": {"domain": ["C2","C4"], "range": ["#0000cc","#990000"]}}}},
            {"mark": {"type": "rule", "strokeWidth": 1.3}, "encoding": {"x": {"field": "k", "type": "nominal", "sort": null, "axis": null}, "y2": {"field": "hi"}, "color": {"field": "g", "type": "nominal", "scale": {"domain": ["C2","C4"], "range": ["#4040ff","#d94545"]}}}},
            {"mark": {"type": "tick", "thickness": 1.3, "size": 8}, "encoding": {"x": {"field": "k", "type": "nominal", "sort": null, "axis": null}, "y": {"field": "hi", "type": "quantitative", "title": "IL-4 (pg/mL)"}, "color": {"field": "g", "type": "nominal", "scale": {"domain": ["C2","C4"], "range": ["#4040ff","#d94545"]}}}},
            {"data": {"values": [{"x":0.27,"x2":2.9,"v":5.3,"v2":5.3},{"x":3.2,"x2":5.9,"v":5.3,"v2":5.3},{"x":1.5,"x2":4.6,"v":5.7,"v2":5.7},{"x":1.5,"x2":1.5,"v":5.56,"v2":5.84},{"x":4.6,"x2":4.6,"v":5.56,"v2":5.84}]},
             "mark": {"type": "rule", "strokeWidth": 1.2, "color": "#000"},
             "encoding": {"x": {"field": "x", "type": "quantitative", "scale": {"domain": [0, 6], "nice": false, "zero": false}, "axis": null}, "x2": {"field": "x2"}, "y2": {"field": "v2"}}},
            {"data": {"values": [{"x":3.05,"v":5.7,"t":"***"}]}, "mark": {"type": "text", "fontSize": 9, "fontWeight": "bold", "color": "#000"},
             "encoding": {"x": {"field": "x", "type": "quantitative", "scale": {"domain": [0, 6], "nice": false, "zero": false}, "axis": null}, "text": {"field": "t"}}}
           ],
           "resolve": {"scale": {"x": "independent", "color": "independent"}}
          },
          {
           "width": 132, "height": 16,
           "data": {"values": [{"c":"C2","a":-0.55,"b":2.27,"m":0.85},{"c":"C4","a":2.5,"b":5.3,"m":4.0}]},
           "layer": [
            {"mark": {"type": "rule", "strokeWidth": 2, "color": "#000"}, "encoding": {"x": {"field": "a", "type": "quantitative", "scale": {"domain": [0, 6], "nice": false, "zero": false}, "axis": null}, "x2": {"field": "b"}, "y": {"datum": "line", "type": "nominal", "scale": {"type": "point", "domain": ["line", "grp"], "padding": 0.5}, "axis": null}}},
            {"mark": {"type": "text", "fontSize": 10.5, "fontWeight": "bold", "baseline": "middle"}, "encoding": {"x": {"field": "m", "type": "quantitative", "scale": {"domain": [0, 6], "nice": false, "zero": false}, "axis": null}, "y": {"datum": "grp", "type": "nominal", "scale": {"type": "point", "domain": ["line", "grp"], "padding": 0.5}, "axis": null}, "text": {"field": "c"}, "color": {"field": "c", "type": "nominal", "scale": {"domain": ["C2","C4"], "range": ["#3333ff","#dd1111"]}}}}
           ]
          }
         ]
        },
        {
         "spacing": 0,
         "vconcat": [
          {
           "width": 132, "height": 121,
           "data": {"values": [{"k":"WJ06","g":"C2","v":2.32,"hi":2.42},{"k":"WJ11","g":"C2","v":2.22,"hi":2.52},{"k":"WJ41","g":"C2","v":2.35,"hi":2.75},{"k":"WJ07","g":"C4","v":5.0,"hi":5.5},{"k":"WJ18","g":"C4","v":4.05,"hi":4.5},{"k":"WJ45","g":"C4","v":5.6,"hi":6.02}]},
           "encoding": {"y": {"field": "v", "type": "quantitative", "scale": {"domain": [0, 8], "nice": false}, "axis": {"title": "IL-10 (pg/mL)", "values": [0, 2, 4, 6, 8], "offset": 3, "labelFontSize": 9, "titleFontSize": 9.5, "tickSize": 4}}},
           "layer": [
            {"mark": {"type": "bar"}, "encoding": {"x": {"field": "k", "type": "nominal", "sort": null, "scale": {"paddingInner": 0.22, "paddingOuter": 0.11}, "axis": {"title": null, "labelAngle": -40, "labelFontSize": 9, "tickSize": 4}}, "color": {"field": "g", "type": "nominal", "scale": {"domain": ["C2","C4"], "range": ["#0000cc","#990000"]}}}},
            {"mark": {"type": "rule", "strokeWidth": 1.3}, "encoding": {"x": {"field": "k", "type": "nominal", "sort": null, "axis": null}, "y2": {"field": "hi"}, "color": {"field": "g", "type": "nominal", "scale": {"domain": ["C2","C4"], "range": ["#4040ff","#d94545"]}}}},
            {"mark": {"type": "tick", "thickness": 1.3, "size": 8}, "encoding": {"x": {"field": "k", "type": "nominal", "sort": null, "axis": null}, "y": {"field": "hi", "type": "quantitative", "title": "IL-10 (pg/mL)"}, "color": {"field": "g", "type": "nominal", "scale": {"domain": ["C2","C4"], "range": ["#4040ff","#d94545"]}}}},
            {"data": {"values": [{"x":0.36,"x2":2.95,"v":7.2,"v2":7.2},{"x":3.27,"x2":5.9,"v":7.2,"v2":7.2},{"x":1.6,"x2":4.64,"v":7.68,"v2":7.68},{"x":1.6,"x2":1.6,"v":7.49,"v2":7.87},{"x":4.64,"x2":4.64,"v":7.49,"v2":7.87}]},
             "mark": {"type": "rule", "strokeWidth": 1.2, "color": "#000"},
             "encoding": {"x": {"field": "x", "type": "quantitative", "scale": {"domain": [0, 6], "nice": false, "zero": false}, "axis": null}, "x2": {"field": "x2"}, "y2": {"field": "v2"}}},
            {"data": {"values": [{"x":3.12,"v":7.68,"t":"***"}]}, "mark": {"type": "text", "fontSize": 9, "fontWeight": "bold", "color": "#000"},
             "encoding": {"x": {"field": "x", "type": "quantitative", "scale": {"domain": [0, 6], "nice": false, "zero": false}, "axis": null}, "text": {"field": "t"}}}
           ],
           "resolve": {"scale": {"x": "independent", "color": "independent"}}
          },
          {
           "width": 132, "height": 16,
           "data": {"values": [{"c":"C2","a":-0.27,"b":2.5,"m":1.2},{"c":"C4","a":2.8,"b":5.6,"m":4.2}]},
           "layer": [
            {"mark": {"type": "rule", "strokeWidth": 2, "color": "#000"}, "encoding": {"x": {"field": "a", "type": "quantitative", "scale": {"domain": [0, 6], "nice": false, "zero": false}, "axis": null}, "x2": {"field": "b"}, "y": {"datum": "line", "type": "nominal", "scale": {"type": "point", "domain": ["line", "grp"], "padding": 0.5}, "axis": null}}},
            {"mark": {"type": "text", "fontSize": 10.5, "fontWeight": "bold", "baseline": "middle"}, "encoding": {"x": {"field": "m", "type": "quantitative", "scale": {"domain": [0, 6], "nice": false, "zero": false}, "axis": null}, "y": {"datum": "grp", "type": "nominal", "scale": {"type": "point", "domain": ["line", "grp"], "padding": 0.5}, "axis": null}, "text": {"field": "c"}, "color": {"field": "c", "type": "nominal", "scale": {"domain": ["C2","C4"], "range": ["#3333ff","#dd1111"]}}}}
           ]
          }
         ]
        }
       ]
      }
     ]
    }
   ]
  }
 ]
}
]
}
